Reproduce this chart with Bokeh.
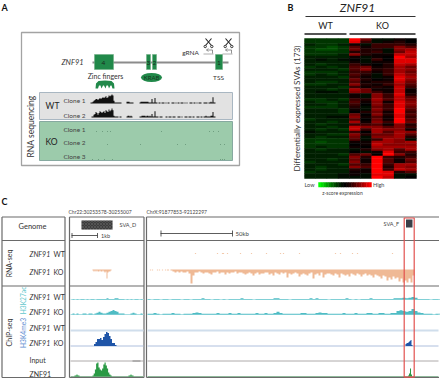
from bokeh.plotting import figure
from bokeh.models import LinearColorMapper, ColumnDataSource
from bokeh.embed import file_html
from bokeh.resources import INLINE
from bokeh.core.properties import value
from bokeh.transform import transform
import math

# ---------- panel A: RNA-seq coverage (px heights per 1 px bin) ----------
clone_wt1 = [1,1,2,3,4,5,5,4,5,6,5,6,7,6,7,8,6,7,9,8,9,10,9,3,1,1,1,1,1,1,1,0,0,0,0,0,2,2,2,1,1,1,1,0,0,0,0,0,0,
             1,2,2,2,2,2,2,2,2,1,1,1,5,1,1,6,1,1,0,1,1,0,1,1,1,0,1,0,1,1,0,0,1,1,1,0,1,0,1,1,0,1,1,1,0,1,0,1,0,0,1,1,1,
             0,1,1,0,1,0,1,1,1,0,0,1,1,1,1,0,1,1,2,1,7,1,1]
clone_wt2 = [0,1,1,3,4,6,5,3,5,7,6,5,6,7,5,8,7,6,9,7,8,10,8,2,1,1,1,1,0,1,1,0,0,0,0,0,1,2,2,1,2,1,0,0,0,0,0,0,0,
             1,1,2,2,2,2,1,2,2,1,2,1,4,1,1,7,1,1,1,0,1,1,1,0,0,0,1,1,0,1,1,1,0,1,1,1,0,0,1,1,1,0,1,0,0,1,1,1,0,1,1,1,0,
             1,1,0,0,1,1,1,0,1,1,0,1,1,2,1,1,1,1,2,2,6,1,1]
ko_dots_1 = [96,102,107,110,161,209,213,218]
ko_dots_2 = [107,140,177,185,220,224]
ko_dots_3 = [92,98,104,112,220,222,224]

# ---------- panel B: z-score heatmap, 56 binned rows ----------
wt_a = [-3,-3,-2,-3,-3,-3,-3,-2,-2,-2,-2,-3,-2,-3,-3,-2,-2,-2,-3,-2,-2,-2,-2,-2,-3,-2,-2,-3,-2,-2,-2,-2,-3,-2,-2,-2,-2,-1,-2,-2,-3,-3,-3,-3,-2,-2,-2,-2,-2,-3,-2,-2,-2,-3,-2,-2]
wt_b = [-3,-3,-3,-3,-4,-3,-3,-2,-1,-2,-3,-2,-2,-3,-2,-2,-2,-3,-3,-2,-2,-1,-2,-2,-3,-3,-2,-3,-2,-2,-2,-2,-2,-2,-3,-2,-3,-2,-2,-3,-3,-4,-3,-2,-3,-2,-2,-2,-2,-2,-2,-3,-3,-2,-2,-2]
wt_c = [-3,-3,-3,-4,-4,-3,-3,-2,-2,-2,-2,-3,-2,-3,-3,-2,-2,-3,-2,-2,-3,-1,-2,-2,-2,-3,-3,-3,-2,-2,-2,-1,-2,-3,-2,-3,-2,-2,-3,-2,-3,-3,-3,-3,-2,-2,-2,-2,-3,-2,-2,-2,-2,-2,-2,-2]
wt_d = [-3,-3,-2,-3,-3,-3,-2,-2,-1,-2,-2,-2,-3,-2,-2,-3,-2,-2,-2,-3,-2,-2,-2,-2,-3,-2,-2,-2,-3,-3,-2,-1,-2,-2,-2,-2,-3,-2,-3,-2,-3,-3,-3,-3,-2,-2,-3,-2,-2,-2,-3,-2,-2,-2,-1,-1]
ko_a = [10,9,1,4,5,2,6,1,0,1,3,4,4,3,4,3,5,4,6,3,7,6,1,1,3,4,3,2,1,0,5,6,4,7,3,8,8,3,6,5,4,1,0,1,-1,0,4,6,5,6,4,6,2,1,1,-1]
ko_b = [5,3,-1,1,2,2,2,-1,-1,-1,1,5,6,3,2,1,2,1,2,1,5,5,-1,-1,2,1,0,-1,-1,2,0,1,0,1,3,6,3,0,2,-1,-1,1,1,0,2,-1,5,2,1,1,3,4,1,1,-1,-1]
ko_c = [-1,-1,3,3,2,3,1,1,3,1,0,1,2,1,-1,-1,0,2,1,2,1,3,6,6,7,6,6,5,6,5,6,4,5,6,4,6,7,7,5,6,3,7,8,7,6,1,0,10,10,10,10,10,10,10,9,10]
ko_d = [-1,1,3,3,-1,-1,1,0,0,1,2,2,3,3,3,1,1,2,3,1,1,1,3,3,4,1,3,3,3,1,2,1,1,3,1,4,6,4,5,6,7,7,6,7,7,9,10,3,4,4,3,2,3,9,9,8]
ko_e = [1,2,3,6,6,5,8,10,9,9,8,7,7,7,8,9,9,8,7,8,8,8,9,8,8,9,9,9,10,10,9,9,10,10,6,6,6,7,7,7,6,6,6,7,4,3,6,2,1,1,7,7,8,2,-1,-1]
ko_f = [0,0,2,4,7,8,8,7,9,9,7,5,6,5,6,7,6,5,4,3,1,1,2,4,5,6,6,5,4,3,4,3,4,5,2,3,1,6,4,2,-1,7,6,7,7,3,2,3,5,4,7,6,7,4,-1,0]
heat_columns = [wt_a, wt_b, wt_c, wt_d, ko_a, ko_b, ko_c, ko_d, ko_e, ko_f]
legend_scale = [-10,-9,-8,-7,-6,-5,-4,-3,-2,-1,0,1,2,3,4,5,6,7,8,9,10]

# ---------- panel C: tracks ----------
rna_wt_dots_right = [195,217,222,223,227,240,251,266,280,283,299,335,340,352,357,392]
rna_ko_dots_right = [150,152,157,159,162,165,167,168]
rna_ko_mid = [1,2,1,2,1,2,2,1,2,2,1,2,3,2,9,3,2,2,1]
rna_ko_right = [1,2,3,2,3,2,3,3,2,4,14,6,
    3,3,2,3,4,3,3,4,5,3,3,2,4,3,3,5,3,4,3,3,
    2,4,3,3,4,5,4,3,4,6,4,3,5,4,4,3,3,5,4,6,
    3,4,5,3,4,3,8,4,5,4,3,4,7,5,4,5,6,4,3,9,
    5,4,6,3,8,5,4,4,5,6,4,5,8,4,5,6,5,7,4,5,
    6,4,5,7,5,4,6,5,6,8,5,6,7,9,6,7,11,8,10,7,
    9,8,12,9,13,11,13,9,13,6]
k27_wt_mid = [0,1,0,1,0,1,1,0,1,0,1,1,0,1,1,1,1,1,2,1,1,1,2,2,1,1,1,0,1,0,1,0,1,1,0,1,0]
k27_ko_mid = [0,1,0,1,0,0,1,1,0,1,1,0,1,2,3,2,1,1,2,3,4,5,4,3,1,1,1,0,0,0,1,2,1,0,0,1,0]
k27_wt_right = [1,0,1,1,0,1,1,0,1,1,1,0,1,1,0,1,1,1,2,1,1,0,1,1,0,1,0,1,1,1,1,2,1,1,1,0,1,1,1,1,1,1,2,2,1,1,1,0,1,1,1,1,1,1,2,1,2,1,1,1,0,1,1,1,1,1,2,1,0,1,0,1,1,1,2,1,1,1,1,1,1,1,2,2,2,3,2,3,4,3,1,1,1,1,0,1,1,1]
k27_ko_right = [1,1,2,1,0,1,1,1,2,1,1,0,1,1,1,2,3,2,1,1,1,1,1,2,1,1,1,2,1,1,2,1,1,1,1,1,2,1,1,2,1,1,2,4,2,1,1,1,1,1,1,2,2,1,1,1,2,3,2,2,1,1,1,1,1,2,1,1,1,2,1,1,1,2,2,1,1,2,2,1,1,2,2,5,6,5,4,5,8,5,3,2,1,1,1,0,1,1]
k4_ko_mid = [0,2,4,7,7,8,6,9,12,14,13,10,7,3,3,1]
k4_ko_right = [2,3,3,4,5,6,1]
znf_mid = [1,3,7,13,14,9,7,6,8,12,14,11,8,4,2,1]
znf_mid_small = [1,1,2,1,1]
znf_right = [1,3,8,2]

# ---------- figure ----------
p = figure(width=440, height=378, x_range=(0, 440), y_range=(378, 0), min_border=0,
           output_backend="svg", toolbar_location=None, outline_line_color=None,
           background_fill_color="white", border_fill_color="white",
           x_axis_type=None, y_axis_type=None)
p.grid.visible = False

FONT = "Lato"
def txt(x, y, s, size=7, color="#333333", align="center", angle=0, style="normal", font=FONT):
    p.text([x], [y], text=[s], text_font=value(font), text_font_size=f"{size}px", text_color=color,
           text_align=align, text_baseline="middle", angle=angle, text_font_style=style)

def hline(x0, x1, y, color="#666666", w=1.0):
    p.segment([x0], [y], [x1], [y], line_color=color, line_width=w)

def vline(x, y0, y1, color="#666666", w=1.0):
    p.segment([x], [y0], [x], [y1], line_color=color, line_width=w)

def box(x0, y0, x1, y1, fill=None, edge=None, w=1.0):
    p.quad(left=[x0], right=[x1], top=[y0], bottom=[y1], fill_color=fill, line_color=edge, line_width=w)

def track(x0, step, heights, base, color, down=False, scale=1.0):
    xs, ys = [], []
    for i, h in enumerate(heights):
        xs += [x0 + i * step, x0 + (i + 1) * step]
        ys += [base + h * scale if down else base - h * scale] * 2
    p.varea(xs, y1=[base] * len(xs), y2=ys, fill_color=color)

# panel labels
txt(1, 7, "A", 9, "#111111", "left", style="bold")
txt(287, 7, "B", 9, "#111111", "left", style="bold")
txt(1, 201, "C", 9, "#111111", "left", style="bold")

# ---- Panel A ----
box(21, 32, 239, 165, "white", "#a3a3a3", 1.3)
hline(92, 228, 62, "#8c8c8c", 2)
GREEN = "#21894a"
for l, r in [(94, 113), (146, 150), (152, 156), (215, 222)]:
    box(l, 54, r, 69, GREEN, "#6fae85", 0.6)
txt(72, 62, "ZNF91", 7.5, style="italic")
for x, s in [(103, "4"), (148, "3"), (154, "2"), (218.5, "1")]:
    txt(x, 62, s, 6.5, "#1a2a20")
txt(105, 75, "Zinc fingers", 7)
p.ellipse([151], [77], width=21, height=9, fill_color=GREEN, line_color=None)
txt(151, 77, "KRAB", 6, "#153a22")
txt(218, 77, "TSS", 6.5)
p.patch([95, 95.5, 98, 104.5, 111, 113.5, 114, 112, 111, 110, 108.5, 107.5, 106, 105, 103.5, 102.5, 101, 100, 98.5, 97.5],
        [88, 83, 80.5, 80, 80.5, 83, 88, 88, 85, 85, 88, 85, 85, 88, 85, 85, 88, 85, 85, 88],
        fill_color=GREEN, line_color=None)
txt(190, 52, "gRNA", 6.5)
for x in (208, 228):
    p.segment([x - 3, x + 3], [38, 38], [x + 3, x - 3], [45, 45], line_color="#222222", line_width=1.1)
    p.circle([x - 3.3, x + 3.3], [46, 46], radius=1.2, fill_color="white", line_color="#222222", line_width=0.9)
for x0 in (203, 222):
    hline(x0, x0 + 10, 53.5, "#999999", 0.8)
    p.line([x0 + 9, x0 + 9, x0 + 3], [53, 49.5, 49.5], line_color="#777777", line_width=0.8)
    p.line([x0 + 5, x0 + 3, x0 + 5], [48, 49.5, 51], line_color="#777777", line_width=0.7)

box(39, 92, 232, 119, "#e2e2e2", "#a9b7c2", 1)
box(39, 121, 232, 160, "#9ccbab", "#86a9a0", 1)
txt(30, 126, "RNA sequencing", 8.5, angle=math.pi / 2)
txt(52, 105, "WT", 8.5, "#222222")
txt(51, 141, "KO", 8.5, "#222222")
for y, s in [(100, "Clone 1"), (115, "Clone 2"), (129, "Clone 1"), (142, "Clone 2"), (156, "Clone 3")]:
    txt(74, y, s, 6.5, "#444444")
track(90, 1, clone_wt1, 103, "#111111", scale=0.9)
track(90, 1, clone_wt2, 117, "#111111", scale=0.9)
for y, dots in [(131, ko_dots_1), (144, ko_dots_2), (159, ko_dots_3)]:
    p.rect(dots, [y] * len(dots), width=1, height=1, fill_color="#6f9e80", line_color=None)

# ---- Panel B ----
txt(357, 7, "ZNF91", 12, "#222222", style="italic")
hline(305, 415, 16, "#333333", 1.2)
txt(325, 25, "WT", 9, "#222222")
txt(382, 25, "KO", 9, "#222222")
hline(304, 346, 33.5, "#555555", 2)
hline(349, 415, 33.5, "#555555", 2)
txt(296, 108, "Differentially expressed SVAs (173)", 8.2, "#333333", angle=math.pi / 2)

pal = []
for i in range(-100, 101):
    g = round(255 * (-i / 100) ** 1.3) if i < 0 else 0
    r = round(255 * (i / 100) ** 1.25) if i > 0 else 0
    pal.append(f"#{r:02x}{g:02x}00")
mapper = LinearColorMapper(palette=pal, low=-10, high=10)
col_w = 11.2
row_h = 140 / 56
xs, ys, vs = [], [], []
for c, col in enumerate(heat_columns):
    for r, v in enumerate(col):
        xs.append(304 + (c + 0.5) * col_w)
        ys.append(38 + (r + 0.5) * row_h)
        vs.append(v)
p.rect(x="x", y="y", width=col_w + 0.4, height=row_h + 0.4, source=ColumnDataSource(dict(x=xs, y=ys, v=vs)),
       fill_color=transform("v", mapper), line_color=None)
n = len(legend_scale)
leg_w = 53 / n
p.rect([318 + (i + 0.5) * leg_w for i in range(n)], [184.2] * n, width=leg_w + 0.4, height=5,
       fill_color=[pal[(v + 10) * 10] for v in legend_scale], line_color=None)
txt(304, 184.5, "Low", 5.5, "#444444", "left")
txt(372.5, 184.5, "High", 5.5, "#444444", "left")
txt(342, 192, "z-score expression", 5, "#444444")

# ---- Panel C ----
LINE = "#6a6a6a"
txt(68, 211, "Chr22:30253578-30255007", 5, "#444444", "left")
txt(146, 211, "ChrX:91877853-92122297", 5, "#444444", "left")
for l, r in [(1.5, 64.5), (69, 143.5), (146, 438.5)]:
    hline(l, r, 216.5, LINE, 1.2)
    hline(l, r, 240, LINE, 1.2)
    hline(l, r, 285.5, LINE, 1.2)
    hline(l, r, 377, LINE, 1.2)
for x in (1.5, 64.5, 69, 143.5, 146):
    vline(x, 216.5, 377, LINE, 1.2)
txt(32, 226, "Genome", 7.5)
txt(8, 263, "RNA-seq", 7, angle=math.pi / 2)
txt(8, 332, "ChIP-seq", 7, angle=math.pi / 2)
txt(22, 300, "H3K27ac", 6.7, "#63c7cd", angle=math.pi / 2)
txt(22, 332.5, "H3K4me3", 6.7, "#5b8bd0", angle=math.pi / 2)
for y, g in [(253, "WT"), (271, "KO"), (296, "WT"), (311, "KO"), (327, "WT"), (342, "KO")]:
    txt(29, y, "ZNF91", 7, "#333333", "left", style="italic")
    txt(53, y, g, 7, "#333333", "left")
txt(29, 359, "Input", 7, "#333333", "left")
txt(29, 373, "ZNF91", 7, "#333333", "left")

# genome strip
p.quad(left=[81], right=[112], top=[220], bottom=[229], fill_color="#3c3c3c", line_color=None,
       hatch_pattern="diagonal_cross", hatch_color="#6a6a6a", hatch_scale=3, hatch_weight=0.5)
txt(119, 224, "SVA_D", 5.5, "#444444", "left")
hline(71, 97, 235, "#333333", 0.8)
vline(71.5, 232.5, 237.5, "#333333", 0.8)
vline(97, 232.5, 237.5, "#333333", 0.8)
txt(100.5, 235, "1kb", 5.5, "#444444", "left")
hline(160, 232, 233, "#333333", 0.8)
vline(160.5, 230, 236, "#333333", 0.8)
vline(232, 230, 236, "#333333", 0.8)
txt(235, 233, "50kb", 6, "#444444", "left")
txt(383, 223, "SVA_F", 5.5, "#444444", "left")
box(405.5, 219, 412, 227, "#3a3f48", None)

# RNA
ORANGE = "#efb995"
p.rect(rna_wt_dots_right, [253] * len(rna_wt_dots_right), width=1.2, height=1, fill_color="#f3c9ab", line_color=None)
p.rect(rna_ko_dots_right, [269.5] * len(rna_ko_dots_right), width=1.2, height=1, fill_color="#f3c9ab", line_color=None)
track(92, 1, rna_ko_mid, 269, ORANGE, down=True)
track(170, 2, rna_ko_right, 269, ORANGE, down=True)

# baselines
for l, r in [(70, 143), (147, 438)]:
    hline(l, r, 299, "#b5e4e8", 1)
    hline(l, r, 314, "#a5dde2", 1)
    hline(l, r, 330, "#d0deec", 2)
    hline(l, r, 345.5, "#aebfdd", 1)
    hline(l, r, 360.5, "#9a9496", 0.8)
    hline(l, r, 376, "#8fb89a", 1.2)
hline(132, 140, 360.5, "#777777", 0.8)

TEAL = "#4fbcc4"
track(70, 2, k27_wt_mid, 299, TEAL, scale=0.6)
track(70, 2, k27_ko_mid, 314, TEAL, scale=0.9)
track(147, 3, k27_wt_right, 299, TEAL, scale=0.6)
track(147, 3, k27_ko_right, 314, TEAL, scale=0.7)
BLUE = "#1f55a8"
track(92, 1.5, k4_ko_mid, 345.5, BLUE)
track(405, 1, k4_ko_right, 345.5, BLUE)
GRN = "#2a9a45"
track(92, 1.2, znf_mid, 376, GRN)
track(74, 1, znf_mid_small, 376, GRN)
track(128, 1, znf_mid_small, 376, GRN)
track(407.5, 1, znf_right, 376, GRN)

# highlight
box(403.7, 217.5, 413.7, 376.7, None, "#e2514f", 1.2)

open("out.html", "w").write(file_html(p, INLINE))
